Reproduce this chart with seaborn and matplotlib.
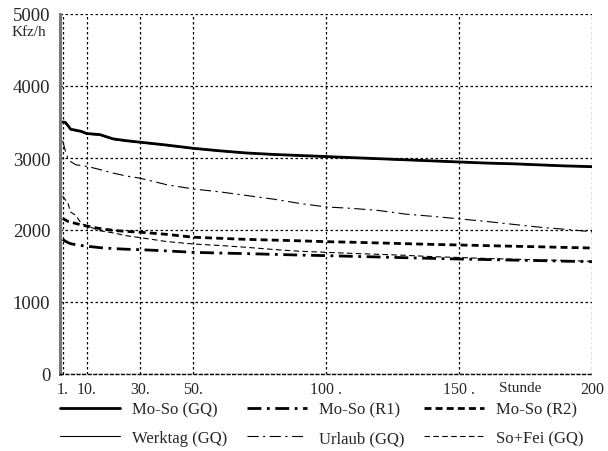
import numpy as np
import pandas as pd
import matplotlib
matplotlib.use("Agg")
import matplotlib.pyplot as plt
import seaborn as sns

# Load data
hours = [1, 2, 3, 4, 6, 8, 10, 15, 20, 25, 30, 40, 50, 60, 70, 80, 90,
         100, 110, 120, 130, 140, 150, 160, 170, 180, 190, 200]

moso_gq = [3500, 3495, 3450, 3400, 3385, 3370, 3340, 3325, 3265, 3240, 3220, 3180, 3135, 3100,
           3070, 3050, 3035, 3020, 3005, 2990, 2975, 2960, 2945, 2930, 2920, 2905, 2890, 2880]
moso_r1 = [1870, 1845, 1825, 1810, 1795, 1785, 1775, 1755, 1742, 1733, 1727, 1710, 1690, 1680,
           1672, 1662, 1652, 1644, 1634, 1625, 1615, 1606, 1597, 1590, 1582, 1575, 1567, 1560]
moso_r2 = [2160, 2140, 2120, 2110, 2090, 2070, 2055, 2020, 1995, 1980, 1970, 1940, 1900, 1885,
           1870, 1860, 1850, 1838, 1830, 1820, 1810, 1800, 1792, 1783, 1775, 1767, 1758, 1750]
werktag = [3490, 3485, 3440, 3392, 3378, 3362, 3332, 3317, 3258, 3233, 3214, 3174, 3129, 3095,
           3065, 3045, 3030, 3015, 3000, 2985, 2970, 2955, 2940, 2925, 2915, 2900, 2886, 2876]
urlaub = [3240, 3100, 2990, 2950, 2905, 2895, 2885, 2840, 2790, 2750, 2720, 2630, 2570, 2530,
          2480, 2430, 2370, 2320, 2300, 2270, 2220, 2190, 2155, 2120, 2080, 2040, 2010, 1975]
sofei = [2470, 2420, 2370, 2250, 2200, 2090, 2060, 1990, 1960, 1920, 1895, 1840, 1806, 1785,
         1760, 1730, 1705, 1690, 1675, 1662, 1648, 1630, 1618, 1605, 1595, 1585, 1575, 1565]

xticks = [1, 10, 30, 50, 100, 150, 200]
xticklabels = ["1.", "10.", "30.", "50.", "100 .", "150 .", "200"]
yticks = [0, 1000, 2000, 3000, 4000, 5000]

df = pd.DataFrame({"Stunde": hours, "Mo-So (GQ)": moso_gq, "Mo-So (R1)": moso_r1,
                   "Mo-So (R2)": moso_r2, "Werktag (GQ)": werktag,
                   "Urlaub (GQ)": urlaub, "So+Fei (GQ)": sofei})

sns.set_style("white")
plt.rcParams['font.family'] = ['Liberation Serif', 'DejaVu Serif']

fig = plt.figure(figsize=(6.08, 4.52), dpi=100)
ax = fig.add_axes([60 / 608, 1 - 375 / 452, 532 / 608, 360 / 452])

# thin lines first, thick ones on top
styles = {
    "Werktag (GQ)": dict(lw=0.8, linestyle="-"),
    "Urlaub (GQ)": dict(lw=0.8, linestyle=(0, (10, 4, 2, 4))),
    "So+Fei (GQ)": dict(lw=0.8, linestyle=(0, (5, 3))),
    "Mo-So (GQ)": dict(lw=2.0, linestyle="-"),
    "Mo-So (R1)": dict(lw=2.0, linestyle=(0, (5, 2, 1, 2))),
    "Mo-So (R2)": dict(lw=2.0, linestyle=(0, (2.5, 1.5))),
}
for name, st in styles.items():
    sns.lineplot(data=df, x="Stunde", y=name, ax=ax, color="black", label=name, **st)

ax.set_xlim(0, 200)
ax.set_ylim(0, 5000)
ax.set_xticks(xticks)
ax.set_xticklabels(xticklabels, fontsize=11.5)
ax.set_yticks(yticks)
ax.set_yticklabels([str(v) for v in yticks], fontsize=13.5)
ax.set_xlabel("")
ax.set_ylabel("")
ax.tick_params(axis="both", direction="out", length=5, width=1, color="black", pad=2)
ax.tick_params(axis="x", length=4, pad=1)

ax.grid(True, color="black", linestyle=(0, (2, 2)), lw=0.9)
for s in ["top", "right"]:
    ax.spines[s].set_visible(False)
ax.spines["left"].set_color("#777777")
ax.spines["left"].set_linewidth(2.2)
ax.spines["bottom"].set_color("black")
ax.spines["bottom"].set_linestyle((0, (2, 2)))
ax.spines["bottom"].set_linewidth(1)

fig.text(12 / 608, 1 - 33 / 452, "Kfz/h", fontsize=11, ha="left", va="center")
ax.text(173, -95, "Stunde", fontsize=11, ha="center", va="top")

# Legend, filled column-wise
order = ["Mo-So (GQ)", "Werktag (GQ)", "Mo-So (R1)", "Urlaub (GQ)", "Mo-So (R2)", "So+Fei (GQ)"]
handles, labels = ax.get_legend_handles_labels()
hmap = dict(zip(labels, handles))
ax.legend([hmap[k] for k in order], order, ncol=3, frameon=False, fontsize=12,
          loc="upper left", bbox_to_anchor=(-0.012, -0.058), handlelength=3.6,
          handletextpad=0.7, columnspacing=1.2, labelspacing=0.75, borderaxespad=0)

fig.savefig("out.png", dpi=100)
